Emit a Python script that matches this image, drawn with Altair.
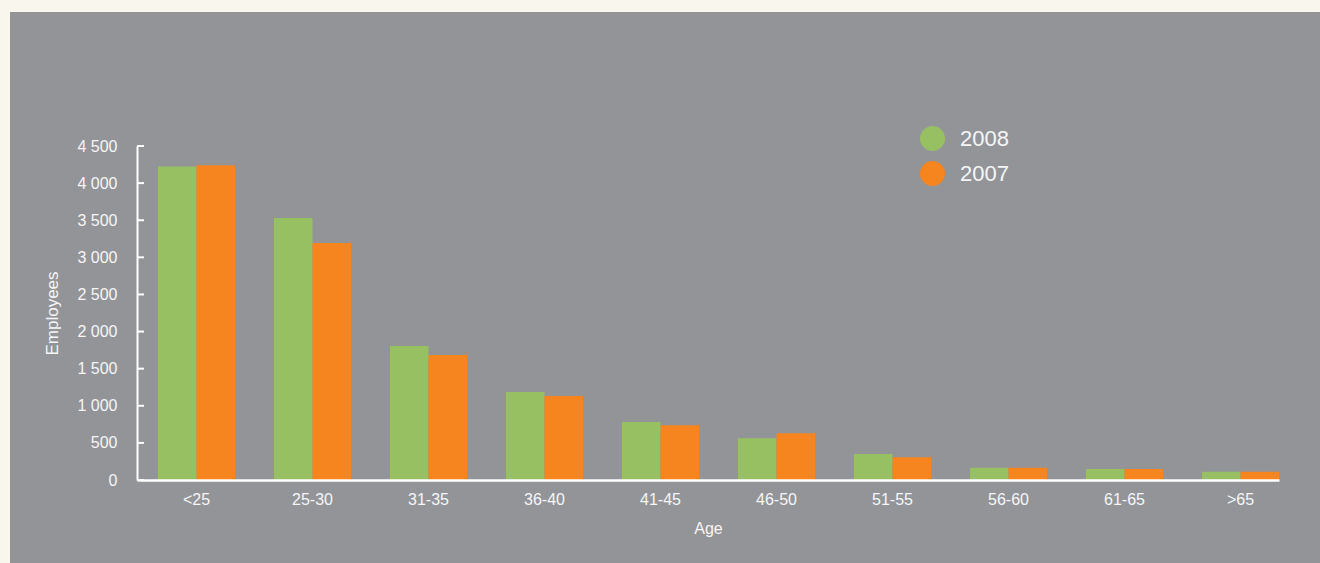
import altair as alt
import pandas as pd

ages = ["<25", "25-30", "31-35", "36-40", "41-45", "46-50", "51-55", "56-60", "61-65", ">65"]
emp_2008 = [4225, 3530, 1805, 1186, 781, 562, 350, 165, 148, 110]
emp_2007 = [4240, 3193, 1684, 1132, 737, 629, 306, 165, 148, 110]
years = ["2008", "2007"]
colors = ["#97C062", "#F6841F"]
y_ticks = [0, 500, 1000, 1500, 2000, 2500, 3000, 3500, 4000, 4500]

rows = []
for i, a in enumerate(ages):
    rows.append({"Age": a, "Year": "2008", "Employees": emp_2008[i]})
    rows.append({"Age": a, "Year": "2007", "Employees": emp_2007[i]})
df = pd.DataFrame(rows)
tick_df = pd.DataFrame({"Employees": y_ticks})

W, H = 1142, 334
PAD_L, PAD_T, PAD_R, PAD_B = 137, 146, 41, 83
TXT = "#f6f6f6"
FONT = "Liberation Sans"

yscale = alt.Scale(domain=[0, 4500], nice=False, zero=True)
y_axis = alt.Axis(
    values=y_ticks,
    labelExpr="replace(format(datum.value, ','), ',', ' ')",
    labelOverlap=False,
    ticks=False,
    grid=False,
    domainColor="white",
    domainWidth=2,
    labelColor=TXT,
    labelFont=FONT,
    labelFontSize=16,
    labelPadding=20,
    title="Employees",
    titleColor=TXT,
    titleFont=FONT,
    titleFontSize=17,
    titleFontWeight="normal",
    titleX=-85,
    titleY=H / 2,
    titleAlign="center",
    titleBaseline="middle",
    zindex=1,
)

panel = alt.Chart(pd.DataFrame({"a": [0]})).mark_rect(color="#939498").encode(
    x=alt.value(10 - PAD_L),
    x2=alt.value(W + PAD_R + 5),
    y=alt.value(12 - PAD_T),
    y2=alt.value(H + PAD_B + 5),
)

bars = alt.Chart(df).mark_bar().encode(
    x=alt.X(
        "Age:N",
        sort=ages,
        scale=alt.Scale(paddingInner=0.336, paddingOuter=0.0905, align=1),
        axis=alt.Axis(
            title="Age",
            labelAngle=0,
            ticks=False,
            domainColor="white",
            domainWidth=2.5,
            labelColor=TXT,
            labelFont=FONT,
            labelFontSize=16,
            labelPadding=11,
            titleColor=TXT,
            titleFont=FONT,
            titleFontSize=16,
            titleFontWeight="normal",
            titlePadding=13,
            zindex=1,
        ),
    ),
    xOffset=alt.XOffset("Year:N", sort=years, scale=alt.Scale(domain=years, paddingInner=0, paddingOuter=0)),
    y=alt.Y("Employees:Q", scale=yscale, axis=y_axis),
    color=alt.Color(
        "Year:N",
        sort=years,
        scale=alt.Scale(domain=years, range=colors),
        legend=alt.Legend(
            title=None,
            orient="none",
            legendX=783,
            legendY=-20,
            symbolType="circle",
            symbolSize=625,
            symbolStrokeWidth=0,
            labelFontSize=22,
            labelFont=FONT,
            labelColor=TXT,
            labelOffset=15,
            rowPadding=10,
            padding=0,
        ),
    ),
)

ticks = alt.Chart(tick_df).mark_rule(color="white", strokeWidth=2).encode(
    x=alt.value(0),
    x2=alt.value(7),
    y=alt.Y("Employees:Q", scale=yscale, axis=y_axis),
)

chart = (
    alt.layer(panel, bars, ticks)
    .properties(
        width=W,
        height=H,
        background="#F9F6EE",
        padding={"left": PAD_L, "top": PAD_T, "right": PAD_R, "bottom": PAD_B},
        autosize=alt.AutoSizeParams(type="none"),
    )
    .configure_view(stroke=None)
)

chart.save("out.html", embed_options={"renderer": "svg", "actions": False})
